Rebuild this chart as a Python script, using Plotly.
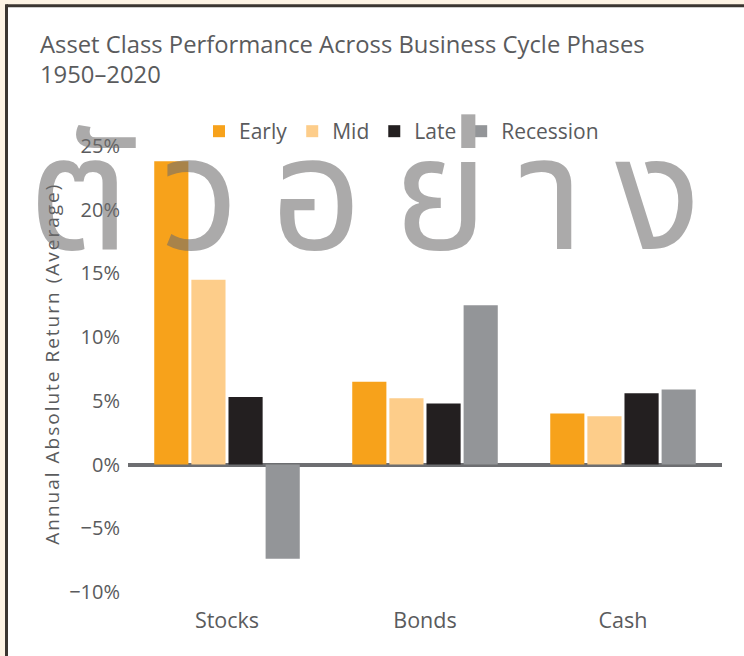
import plotly.graph_objects as go

categories = ["Stocks", "Bonds", "Cash"]
series_names = ["Early", "Mid", "Late", "Recession"]
early = [23.8, 6.5, 4.0]
mid = [14.5, 5.2, 3.8]
late = [5.3, 4.8, 5.6]
recession = [-7.4, 12.5, 5.9]
series_values = [early, mid, late, recession]
colors = ["#F7A21B", "#FDCD8A", "#231F20", "#939598"]
y_tick_vals = [-10, -5, 0, 5, 10, 15, 20, 25]
y_tick_text = ["\u221210%", "\u22125%", "0%", "5%", "10%", "15%", "20%", "25%"]
title_lines = ["Asset Class Performance Across Business Cycle Phases", "1950\u20132020"]
y_title = "Annual Absolute Return (Average)"
watermark = "\u0e15\u0e31\u0e27\u0e2d\u0e22\u0e48\u0e32\u0e07"

W, H = 744, 656
L, R, T, B = 128, 22, 146, 63.5
PW, PH = W - L - R, H - T - B

def px(x):
    return (x - L) / PW

def py(y):
    return (H - B - y) / PH

FONT = "Open Sans"
GRAY = "#5a5b5d"

fig = go.Figure()
for name, vals, col in zip(series_names, series_values, colors):
    fig.add_trace(go.Bar(x=categories, y=vals, name=name, marker=dict(color=col, line=dict(width=0))))

shapes = [
    dict(type="rect", xref="paper", yref="paper", x0=px(7), x1=px(W + 5), y0=py(6), y1=py(H + 5),
         fillcolor="white", line=dict(width=0), layer="below"),
    dict(type="line", xref="paper", yref="paper", x0=px(6.5), x1=px(W + 5), y0=py(5.5), y1=py(5.5),
         line=dict(color="#3b3631", width=3), layer="below"),
    dict(type="line", xref="paper", yref="paper", x0=px(6.5), x1=px(6.5), y0=py(4), y1=py(H + 5),
         line=dict(color="#3b3631", width=3), layer="below"),
]

annotations = [
    dict(text=title_lines[0], xref="paper", yref="paper", x=px(38), y=py(44),
         xanchor="left", yanchor="middle", showarrow=False,
         font=dict(family=FONT, size=23.8, color=GRAY)),
    dict(text=title_lines[1], xref="paper", yref="paper", x=px(38), y=py(74),
         xanchor="left", yanchor="middle", showarrow=False,
         font=dict(family=FONT, size=23.8, color=GRAY)),
    dict(text="<span style='letter-spacing:2px'>" + y_title + "</span>", xref="paper", yref="paper",
         x=px(52), y=py(364), xanchor="center", yanchor="middle", textangle=-90, showarrow=False,
         font=dict(family=FONT, size=19, color=GRAY)),
    dict(text="<span style='letter-spacing:31px'>" + watermark + "</span>", xref="paper", yref="paper",
         x=px(26), y=py(200), xanchor="left", yanchor="middle", showarrow=False,
         font=dict(family="Noto Sans Thai, Noto Sans Thai UI, sans-serif", size=160,
                   color="rgba(110,108,108,0.58)")),
]

fig.update_layout(
    width=W, height=H,
    margin=dict(l=L, r=R, t=T, b=B, pad=0),
    paper_bgcolor="#FDF3E4",
    plot_bgcolor="rgba(0,0,0,0)",
    barmode="group",
    bargap=0.25,
    bargroupgap=0.08,
    showlegend=True,
    legend=dict(orientation="h", x=px(199), y=py(111), xanchor="left", yanchor="top",
                font=dict(family=FONT, size=21, color=GRAY), bgcolor="rgba(0,0,0,0)",
                traceorder="normal"),
    xaxis=dict(showgrid=False, showline=False, ticks="outside", ticklen=9, tickcolor="rgba(0,0,0,0)",
               tickfont=dict(family=FONT, size=21.5, color=GRAY), fixedrange=True),
    yaxis=dict(range=[-10, 25], tickvals=y_tick_vals, ticktext=y_tick_text, showgrid=False,
               showline=False, zeroline=True, zerolinecolor="#6d6e71", zerolinewidth=4,
               ticks="outside", ticklen=3, tickcolor="rgba(0,0,0,0)",
               tickfont=dict(family=FONT, size=20, color=GRAY)),
    shapes=shapes,
    annotations=annotations,
)

fig.write_html("out.html", config={"displayModeBar": False},
               post_script="document.body.style.margin='0';")
